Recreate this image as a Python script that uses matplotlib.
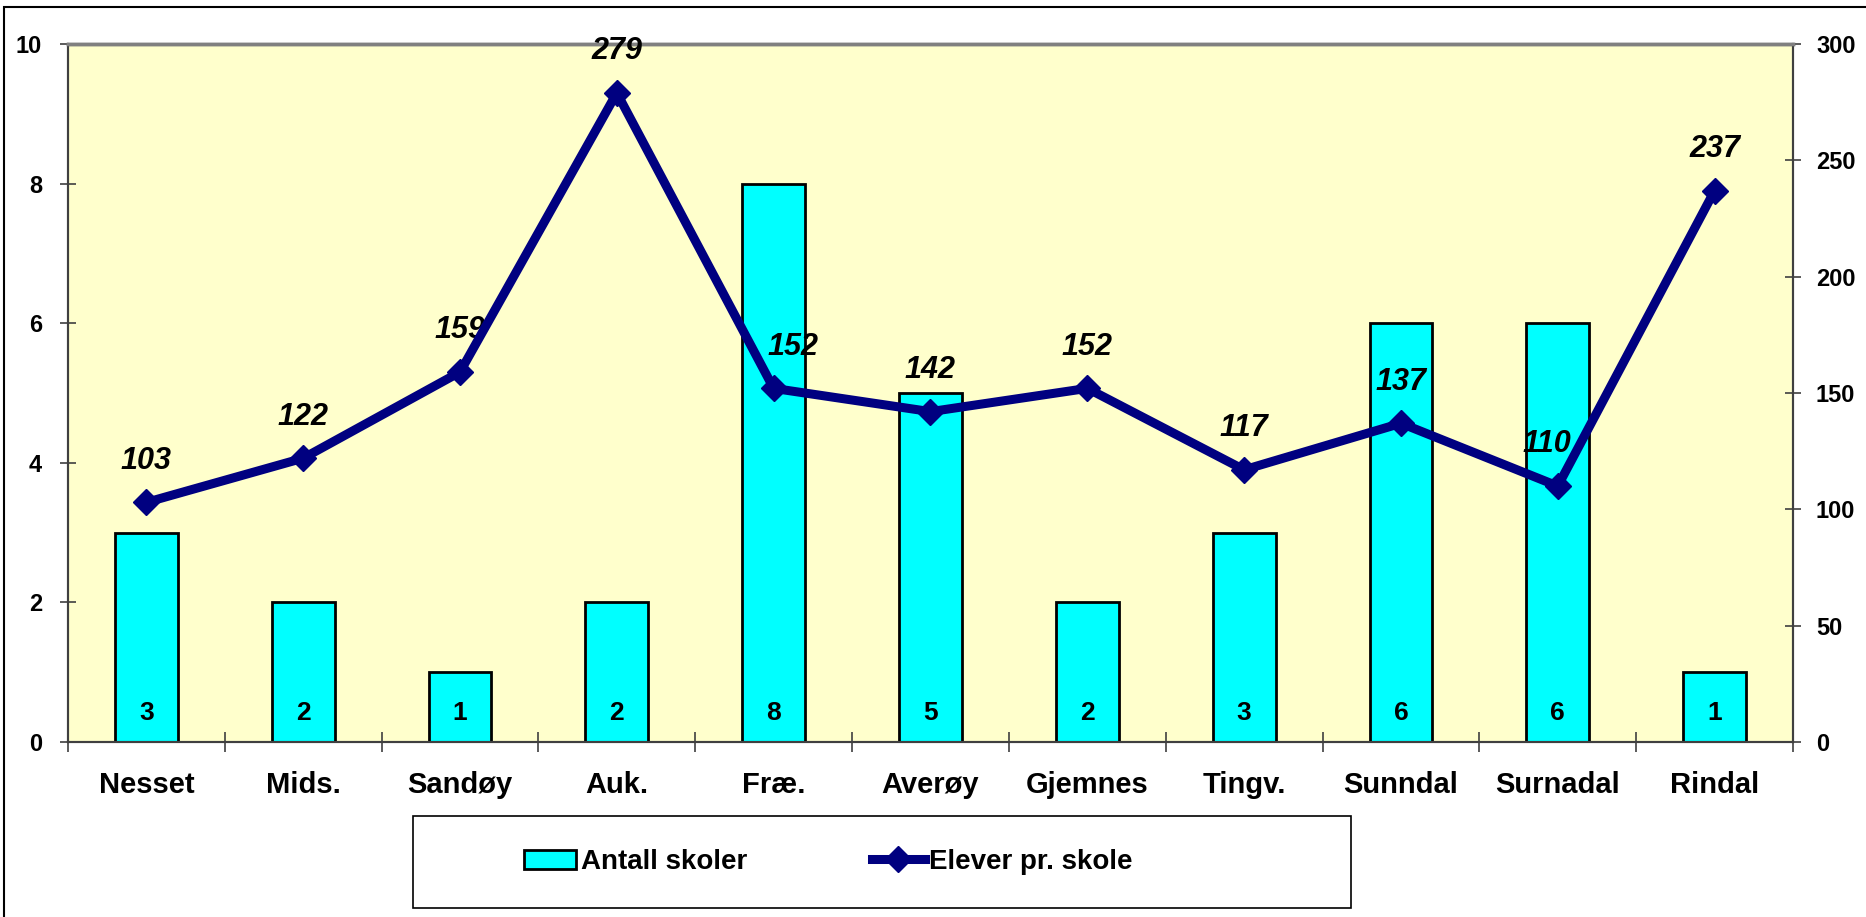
import matplotlib
matplotlib.use("Agg")
import matplotlib.pyplot as plt
from matplotlib.patches import Rectangle, Patch
from matplotlib.lines import Line2D

plt.rcParams['font.family'] = ['Liberation Sans', 'DejaVu Sans']
plt.rcParams['font.weight'] = 'bold'

kommuner = ['Nesset', 'Mids.', 'Sandøy', 'Auk.', 'Fræ.', 'Averøy', 'Gjemnes',
            'Tingv.', 'Sunndal', 'Surnadal', 'Rindal']
antall_skoler = [3, 2, 1, 2, 8, 5, 2, 3, 6, 6, 1]
elever_pr_skole = [103, 122, 159, 279, 152, 142, 152, 117, 137, 110, 237]
left_ticks = [0, 2, 4, 6, 8, 10]
right_ticks = [0, 50, 100, 150, 200, 250, 300]

navy = '#000080'
cyan = '#00FFFF'

fig = plt.figure(figsize=(18.66, 9.17), dpi=100)
ax = fig.add_axes([0.0364, 0.1908, 0.9245, 0.7612])
ax.set_facecolor('#FFFFCC')

x = list(range(len(kommuner)))
ax.bar(x, antall_skoler, width=0.4, color=cyan, edgecolor='black', linewidth=2, zorder=2)
for i, v in zip(x, antall_skoler):
    ax.text(i, 0.41, str(v), ha='center', va='center', fontsize=19, fontweight='bold', zorder=3)

ax.set_xlim(-0.5, len(kommuner) - 0.5)
ax.set_ylim(0, 10)
ax.set_yticks(left_ticks)
ax.set_xticks(x)
ax.set_xticklabels(kommuner, fontsize=21, fontweight='bold')
ax.set_xticks([i - 0.5 for i in range(len(kommuner) + 1)], minor=True)
ax.tick_params(axis='x', which='major', length=0, pad=21)
ax.tick_params(axis='x', which='minor', direction='inout', length=14, width=1.2, color='#404040')
ax.tick_params(axis='y', direction='inout', length=11, width=1.2, pad=13, labelsize=17, color='#404040')

ax2 = ax.twinx()
ax2.set_ylim(0, 300)
ax2.set_yticks(right_ticks)
ax2.tick_params(axis='y', direction='inout', length=11, width=1.2, pad=11, labelsize=17, color='#404040')
ax2.plot(x, elever_pr_skole, color=navy, linewidth=6.5, marker='D', markersize=13, zorder=4)

# label offsets (points) as placed in the original
dx = [0, 0, 0, 0, 14, 0, 0, 0, 0, -8, 0]
for i, v in enumerate(elever_pr_skole):
    ax2.annotate(str(v), (i, v), xytext=(dx[i], 30), textcoords='offset points',
                 ha='center', va='center', fontsize=22, fontweight='bold', style='italic')

for a in (ax, ax2):
    for s in a.spines.values():
        s.set_linewidth(1.5)
        s.set_color('#404040')
    a.spines['top'].set_color('#808080')
    a.spines['top'].set_linewidth(2.5)

for lbl in ax.get_yticklabels() + ax2.get_yticklabels():
    lbl.set_fontweight('bold')

# outer chart frame
fig.add_artist(Rectangle((4 / 1866, -0.01), 1.02, 1 - 7 / 917 + 0.01, transform=fig.transFigure,
                         fill=False, edgecolor='black', linewidth=1.5))

# legend box
fig.add_artist(Rectangle((413 / 1866, 1 - 908 / 917), 938 / 1866, 92 / 917, transform=fig.transFigure,
                         facecolor='white', edgecolor='black', linewidth=1.2))
handles = [Patch(facecolor=cyan, edgecolor='black', linewidth=2),
           Line2D([], [], color=navy, linewidth=6.5, marker='D', markersize=13)]
fig.legend(handles, ['Antall skoler', 'Elever pr. skole'], loc='center',
           bbox_to_anchor=(828 / 1866, 1 - 862 / 917), ncol=2, frameon=False,
           prop={'size': 20, 'weight': 'bold'}, handlelength=1.9, handletextpad=0.15,
           columnspacing=4.5)

fig.savefig('out.png', dpi=100)
